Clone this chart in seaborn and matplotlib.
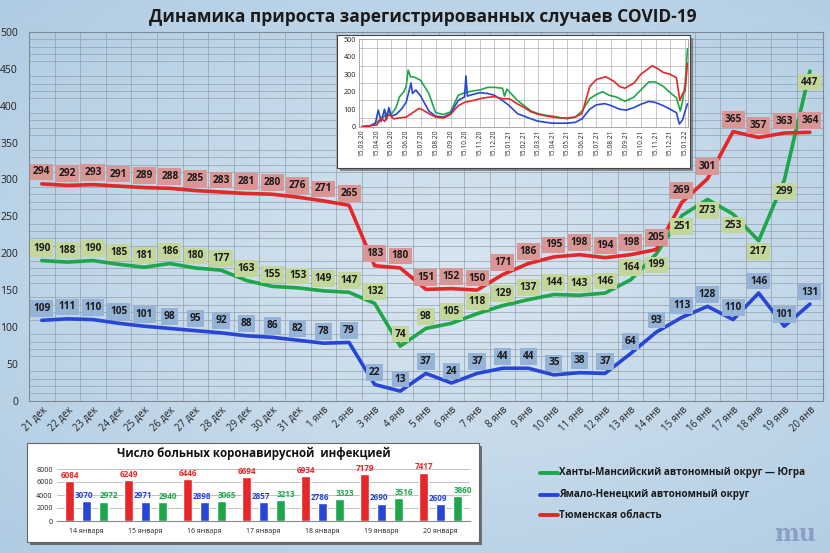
import numpy as np
import pandas as pd
import matplotlib
matplotlib.use("Agg")
import matplotlib.pyplot as plt
import matplotlib.dates as mdates
from matplotlib.patches import Rectangle
from matplotlib.lines import Line2D
import seaborn as sns

# ---------------- data ----------------
days = ["21 дек", "22 дек", "23 дек", "24 дек", "25 дек", "26 дек", "27 дек", "28 дек",
        "29 дек", "30 дек", "31 дек", "1 янв", "2 янв", "3 янв", "4 янв", "5 янв",
        "6 янв", "7 янв", "8 янв", "9 янв", "10 янв", "11 янв", "12 янв", "13 янв",
        "14 янв", "15 янв", "16 янв", "17 янв", "18 янв", "19 янв", "20 янв"]
hmao = [190, 188, 190, 185, 181, 186, 180, 177, 163, 155, 153, 149, 147, 132, 74, 98,
        105, 118, 129, 137, 144, 143, 146, 164, 199, 251, 273, 253, 217, 299, 447]
yanao = [109, 111, 110, 105, 101, 98, 95, 92, 88, 86, 82, 78, 79, 22, 13, 37,
         24, 37, 44, 44, 35, 38, 37, 64, 93, 113, 128, 110, 146, 101, 131]
tyumen = [294, 292, 293, 291, 289, 288, 285, 283, 281, 280, 276, 271, 265, 183, 180, 151,
          152, 150, 171, 186, 195, 198, 194, 198, 205, 269, 301, 365, 357, 363, 364]

# inset: long-run history
g_dates = ["2020-03-15", "2020-04-01", "2020-04-15", "2020-05-01", "2020-05-10", "2020-05-15",
           "2020-05-25", "2020-06-01", "2020-06-10", "2020-06-15", "2020-06-19", "2020-06-24",
           "2020-07-01", "2020-07-15", "2020-08-01", "2020-08-15", "2020-09-01", "2020-09-15",
           "2020-10-01", "2020-10-15", "2020-11-01", "2020-11-15", "2020-12-01", "2020-12-15",
           "2021-01-01", "2021-01-05", "2021-01-10", "2021-01-15", "2021-02-01", "2021-02-15",
           "2021-03-01", "2021-03-15", "2021-04-01", "2021-04-15", "2021-05-01", "2021-05-15",
           "2021-06-01", "2021-06-15", "2021-07-01", "2021-07-15", "2021-07-28", "2021-08-10",
           "2021-08-25", "2021-09-12", "2021-10-01", "2021-10-15", "2021-11-01", "2021-11-15",
           "2021-12-01", "2021-12-15", "2021-12-28", "2022-01-05", "2022-01-10", "2022-01-15",
           "2022-01-20"]
g_vals = [0, 5, 25, 60, 90, 70, 110, 170, 200, 230, 324, 285,
          285, 265, 190, 80, 70, 85, 180, 195, 205, 210, 225, 225,
          220, 175, 215, 200, 150, 120, 90, 75, 65, 60, 52, 45,
          55, 90, 160, 185, 200, 180, 170, 145, 170, 210, 257, 255,
          230, 195, 165, 90, 150, 250, 447]

b_dates = ["2020-03-15", "2020-04-01", "2020-04-12", "2020-04-18", "2020-04-24", "2020-05-01",
           "2020-05-05", "2020-05-10", "2020-05-15", "2020-05-25", "2020-06-05", "2020-06-15",
           "2020-06-25", "2020-06-28", "2020-07-05", "2020-07-15", "2020-08-01", "2020-08-15",
           "2020-09-01", "2020-09-15", "2020-10-01", "2020-10-14", "2020-10-17", "2020-10-20",
           "2020-11-01", "2020-11-15", "2020-12-01", "2020-12-15", "2021-01-01", "2021-01-15",
           "2021-02-01", "2021-02-15", "2021-03-01", "2021-03-15", "2021-04-01", "2021-04-15",
           "2021-05-01", "2021-05-15", "2021-06-01", "2021-06-15", "2021-07-01", "2021-07-15",
           "2021-08-01", "2021-08-15", "2021-09-01", "2021-09-15", "2021-10-01", "2021-10-15",
           "2021-11-01", "2021-11-15", "2021-12-01", "2021-12-15", "2021-12-28", "2022-01-03",
           "2022-01-10", "2022-01-15", "2022-01-20"]
b_vals = [0, 5, 20, 95, 30, 100, 40, 110, 60, 70, 100, 140,
          250, 190, 210, 175, 90, 60, 55, 75, 150, 170, 290, 175,
          185, 195, 190, 180, 150, 120, 75, 60, 45, 32, 25, 20,
          20, 20, 25, 45, 100, 125, 132, 120, 100, 95, 110, 128,
          145, 138, 120, 100, 80, 15, 40, 90, 131]

r_dates = ["2020-03-15", "2020-04-15", "2020-04-25", "2020-05-01", "2020-05-10", "2020-05-20",
           "2020-06-01", "2020-06-15", "2020-07-01", "2020-07-12", "2020-07-20", "2020-08-01",
           "2020-08-15", "2020-09-01", "2020-09-15", "2020-10-01", "2020-10-15", "2020-11-01",
           "2020-11-15", "2020-12-01", "2020-12-15", "2021-01-01", "2021-01-15", "2021-02-01",
           "2021-02-15", "2021-03-01", "2021-03-15", "2021-04-01", "2021-04-15", "2021-05-01",
           "2021-05-15", "2021-06-01", "2021-06-15", "2021-07-01", "2021-07-15", "2021-08-03",
           "2021-08-20", "2021-09-01", "2021-09-12", "2021-10-01", "2021-10-15", "2021-11-08",
           "2021-11-20", "2021-12-01", "2021-12-15", "2021-12-28", "2022-01-04", "2022-01-10",
           "2022-01-15", "2022-01-20"]
r_vals = [0, 10, 50, 30, 70, 45, 50, 55, 85, 105, 95, 75,
          55, 50, 70, 120, 140, 150, 160, 168, 172, 160, 160, 130,
          110, 85, 72, 62, 55, 50, 50, 55, 75, 230, 270, 286,
          260, 230, 220, 250, 300, 349, 330, 310, 300, 280, 150, 190,
          205, 364]

bar_dates = ["14 января", "15 января", "16 января", "17 января", "18 января", "19 января", "20 января"]
bar_tyumen = [6084, 6249, 6446, 6694, 6934, 7179, 7417]
bar_yanao = [3070, 2971, 2898, 2857, 2786, 2690, 2609]
bar_hmao = [2972, 2940, 3065, 3213, 3323, 3516, 3860]

names = ["Ханты-Мансийский автономный округ — Югра",
         "Ямало-Ненецкий автономный округ",
         "Тюменская область"]

# ---------------- style ----------------
GREEN = "#1ea64b"
BLUE = "#2746d6"
RED = "#e62628"
LBL_G = "#c4d79b"
LBL_B = "#95b3d7"
LBL_R = "#d99694"
GRID = "#8f9aa3"

sns.set_theme(style="white")
plt.rcParams["font.family"] = ["Open Sans", "DejaVu Sans"]

W, H = 830, 553
fig = plt.figure(figsize=(W / 100, H / 100), dpi=100)


def fx(px):
    return px / W


def fy(py):
    return 1 - py / H


# background gradient
bg = fig.add_axes([0, 0, 1, 1], zorder=-10)
yy, xx = np.mgrid[0:1:120j, 0:1:180j]
d = np.sqrt(((xx - 0.55) / 0.75) ** 2 + ((yy - 0.5) / 0.7) ** 2)
d = np.clip(d, 0, 1)
c_in = np.array([0.85, 0.90, 0.94])
c_out = np.array([0.69, 0.80, 0.89])
img = c_in[None, None, :] * (1 - d[..., None]) + c_out[None, None, :] * d[..., None]
bg.imshow(img, extent=[0, 1, 0, 1], aspect="auto", interpolation="bilinear")
bg.set_axis_off()

# ---------------- main chart ----------------
ax = fig.add_axes([fx(29), fy(400.7), fx(822.7 - 29), (400.7 - 32) / H])
ax.patch.set_alpha(0)
x = np.arange(len(days))
df = pd.DataFrame({"x": x, "hmao": hmao, "yanao": yanao, "tyumen": tyumen})
sns.lineplot(data=df, x="x", y="yanao", ax=ax, color=BLUE, lw=2.6, zorder=3)
sns.lineplot(data=df, x="x", y="hmao", ax=ax, color=GREEN, lw=2.6, zorder=3)
sns.lineplot(data=df, x="x", y="tyumen", ax=ax, color=RED, lw=2.6, zorder=3)

ax.set_xlim(-0.5, len(days) - 0.5)
ax.set_ylim(0, 500)
ax.set_yticks(np.arange(0, 501, 50))
ax.set_yticks(np.arange(0, 501, 10), minor=True)
ax.set_xticks(x)
ax.set_xticks(np.arange(-0.5, len(days), 1), minor=True)
ax.set_xticklabels(days, rotation=45, ha="right", rotation_mode="anchor", fontsize=7, color="#222222")
ax.tick_params(axis="y", labelsize=7.5, labelcolor="#222222", length=0, pad=8)
ax.tick_params(axis="x", length=0, pad=3)
ax.tick_params(which="minor", length=0)
ax.grid(which="minor", color=GRID, lw=0.6, alpha=0.75)
ax.grid(which="major", visible=False)
ax.set_xlabel("")
ax.set_ylabel("")
for s in ax.spines.values():
    s.set_color("#7f8a93")
    s.set_linewidth(0.8)

below_green = {24, 25, 26, 27, 28, 29, 30}
for i in x:
    ax.annotate(str(tyumen[i]), (i, tyumen[i]), xytext=(0, 12), textcoords="offset pixels",
                ha="center", va="center", fontsize=7.3, fontweight="bold", color="#1a1a1a",
                bbox=dict(boxstyle="square,pad=0.28", fc=LBL_R, ec="none"), zorder=5)
    off = -11 if i in below_green else 12
    ax.annotate(str(hmao[i]), (i, hmao[i]), xytext=(0, off), textcoords="offset pixels",
                ha="center", va="center", fontsize=7.3, fontweight="bold", color="#1a1a1a",
                bbox=dict(boxstyle="square,pad=0.28", fc=LBL_G, ec="none"), zorder=5)
    ax.annotate(str(yanao[i]), (i, yanao[i]), xytext=(0, 12), textcoords="offset pixels",
                ha="center", va="center", fontsize=7.3, fontweight="bold", color="#1a1a1a",
                bbox=dict(boxstyle="square,pad=0.28", fc=LBL_B, ec="none"), zorder=5)

# title
fig.text(fx(423), fy(17), "Динамика прироста зарегистрированных случаев COVID-19",
         ha="center", va="center", fontsize=12.5, fontweight="bold", color="#1a1a1a")

# ---------------- inset ----------------
fig.patches.append(Rectangle((fx(340), fy(171)), fx(353), 133 / H, transform=fig.transFigure,
                             fc="#555555", ec="none", alpha=0.6, zorder=4))
fig.patches.append(Rectangle((fx(337), fy(168)), fx(353), 133 / H, transform=fig.transFigure,
                             fc="white", ec="#444444", lw=0.8, zorder=5))
axi = fig.add_axes([fx(359), fy(126.7), fx(329), 87.4 / H], zorder=6)
axi.set_facecolor("white")
dg = pd.DataFrame({"d": pd.to_datetime(g_dates), "v": g_vals})
db = pd.DataFrame({"d": pd.to_datetime(b_dates), "v": b_vals})
dr = pd.DataFrame({"d": pd.to_datetime(r_dates), "v": r_vals})
sns.lineplot(data=dg, x="d", y="v", ax=axi, color=GREEN, lw=1.2)
sns.lineplot(data=db, x="d", y="v", ax=axi, color=BLUE, lw=1.2)
sns.lineplot(data=dr, x="d", y="v", ax=axi, color=RED, lw=1.2)
axi.set_xlim(pd.Timestamp("2020-03-09"), pd.Timestamp("2022-01-21"))
axi.set_ylim(0, 500)
axi.set_yticks(np.arange(0, 501, 100))
axi.set_yticks(np.arange(0, 501, 50), minor=True)
axi.xaxis.set_major_locator(mdates.MonthLocator(bymonthday=15))
axi.xaxis.set_major_formatter(mdates.DateFormatter("%d.%m.%y"))
axi.tick_params(axis="x", labelsize=4.8, rotation=90, length=0, pad=2, labelcolor="#222222")
axi.tick_params(axis="y", labelsize=5.2, length=0, pad=2, labelcolor="#222222")
axi.tick_params(which="minor", length=0)
axi.grid(which="major", axis="x", color="#b0b0b0", lw=0.5)
axi.grid(which="minor", axis="y", color="#b0b0b0", lw=0.5)
axi.set_xlabel("")
axi.set_ylabel("")
for s in axi.spines.values():
    s.set_color("#9a9a9a")
    s.set_linewidth(0.6)

# ---------------- bar chart box ----------------
fig.patches.append(Rectangle((fx(30), fy(545)), fx(452), 99 / H, transform=fig.transFigure,
                             fc="#444444", ec="none", alpha=0.7, zorder=4))
fig.patches.append(Rectangle((fx(27), fy(542)), fx(452), 99 / H, transform=fig.transFigure,
                             fc="white", ec="#666666", lw=0.8, zorder=5))
axb = fig.add_axes([fx(57), fy(521), fx(413), 52 / H], zorder=6)
axb.patch.set_alpha(0)
bdf = pd.DataFrame({
    "date": bar_dates * 3,
    "val": bar_tyumen + bar_yanao + bar_hmao,
    "reg": [names[2]] * len(bar_dates) + [names[1]] * len(bar_dates) + [names[0]] * len(bar_dates),
})
sns.barplot(data=bdf, x="date", y="val", hue="reg", hue_order=[names[2], names[1], names[0]],
            palette=[RED, BLUE, GREEN], width=0.86, gap=0.48, ax=axb, legend=False, saturation=1)
for cont, col, dx in zip(axb.containers, [RED, BLUE, GREEN], [0, -2, 4]):
    texts = axb.bar_label(cont, fmt="%d", color=col, fontsize=5.9, fontweight="bold", padding=1)
    for t in texts:
        t.set_x(t.get_position()[0])
        t.xyann = (dx, t.xyann[1])
axb.set_ylim(0, 8000)
axb.set_yticks(np.arange(0, 8001, 2000))
axb.set_xlim(-0.5, len(bar_dates) - 0.5)
axb.tick_params(axis="y", labelsize=5.2, length=0, pad=3, labelcolor="#222222")
axb.tick_params(axis="x", labelsize=5, length=0, pad=5, labelcolor="#222222")
axb.grid(axis="y", color="#b5b5b5", lw=0.6)
axb.set_axisbelow(True)
axb.set_xlabel("")
axb.set_ylabel("")
for k in ["left", "right", "top"]:
    axb.spines[k].set_visible(False)
axb.spines["bottom"].set_color("#8a8a8a")
axb.spines["bottom"].set_linewidth(0.8)
fig.text(fx(254), fy(453), "Число больных коронавирусной  инфекцией", ha="center", va="center",
         fontsize=8.3, fontweight="bold", color="#111111", zorder=7)

# ---------------- legend ----------------
for (nm, col, yp) in zip(names, [GREEN, BLUE, RED], [473, 495, 515]):
    fig.lines.append(Line2D([fx(540), fx(558)], [fy(yp), fy(yp)], transform=fig.transFigure,
                            color=col, lw=2.8))
    fig.text(fx(559), fy(yp), nm, ha="left", va="center", fontsize=7.1, fontweight="bold",
             color="#1a1a1a")

# logo
fig.text(fx(795), fy(534), "mu", ha="center", va="center", fontsize=17, fontweight="bold",
         family="DejaVu Serif", color="#8595c2", alpha=0.85)

fig.savefig("out.png", dpi=100)
